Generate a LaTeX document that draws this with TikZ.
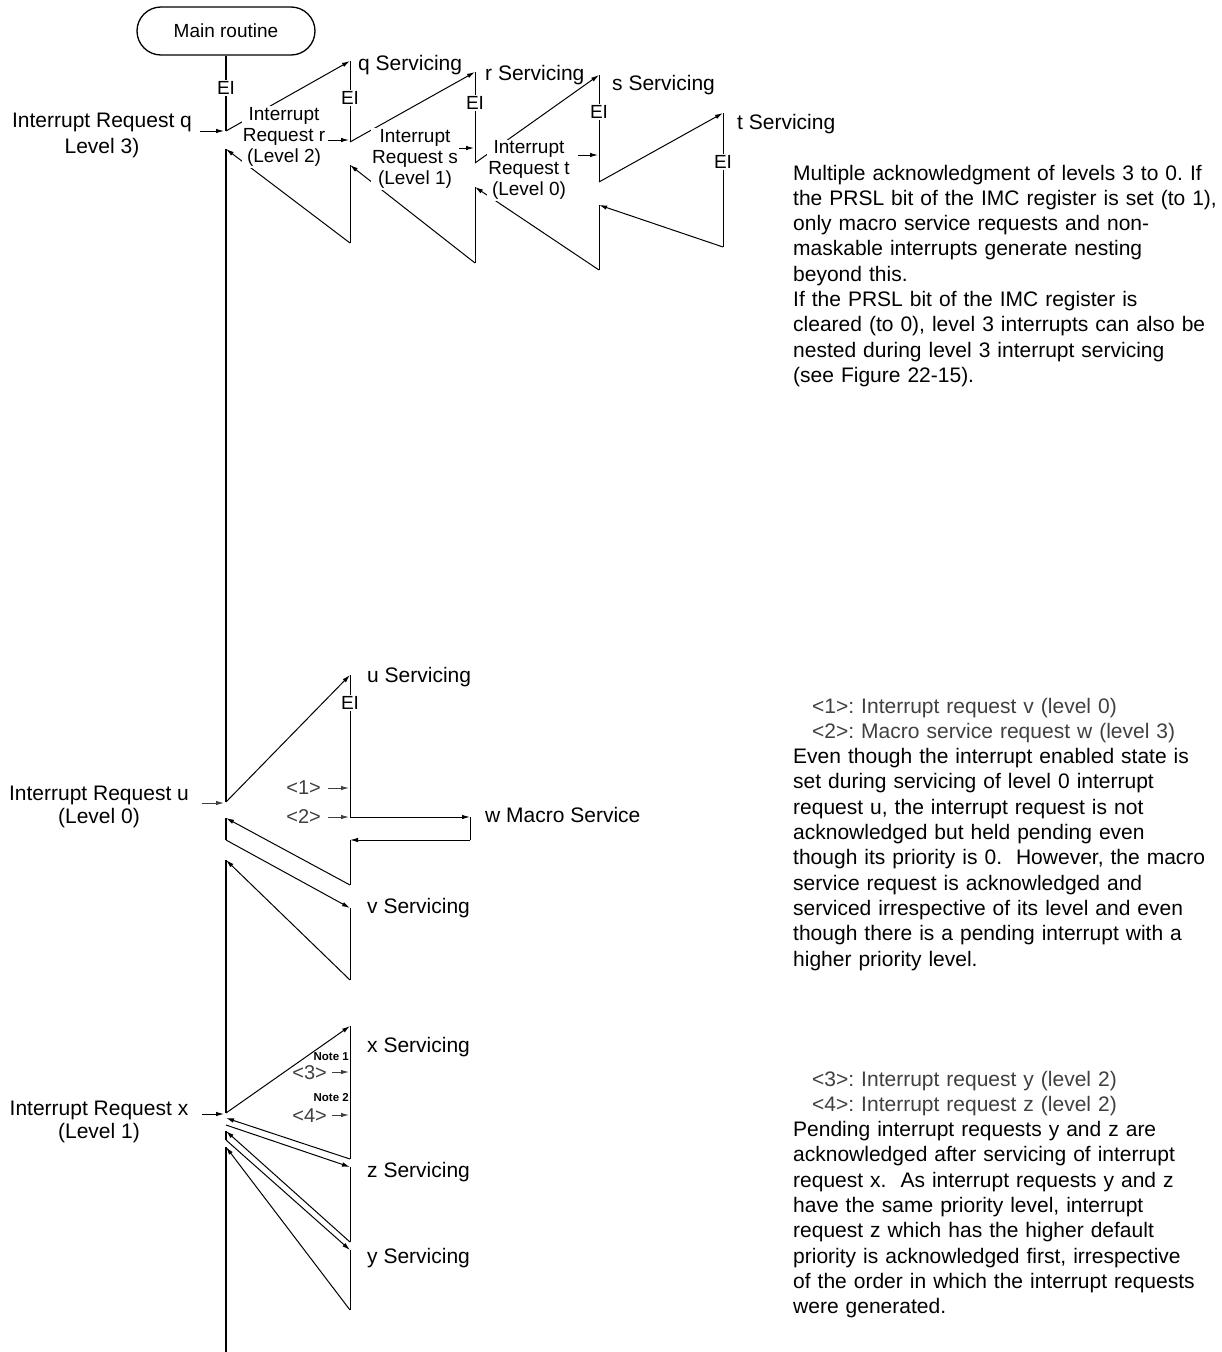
\documentclass[tikz,border=0pt]{standalone}
\usepackage{fontspec}
\setmainfont{Liberation Sans}
\usetikzlibrary{arrows.meta}
\definecolor{tg}{gray}{0.25}
\begin{document}
\frenchspacing
\begin{tikzpicture}[x=1pt,y=-1pt,
  ln/.style={line width=1pt},
  ar/.style={line width=1pt,-{Latex[length=8pt,width=4.5pt]}},
  mainln/.style={line width=1.3pt},
  lbl/.style={font=\fontsize{21}{21}\selectfont, inner sep=0pt},
  req/.style={font=\fontsize{21}{26}\selectfont, inner sep=0pt, align=center},
  sml/.style={font=\fontsize{19}{21}\selectfont, inner sep=1pt, align=center, fill=white},
  ei/.style={font=\fontsize{19}{19}\selectfont, inner sep=1pt, fill=white},
  num/.style={font=\fontsize{20}{20}\selectfont, inner sep=0pt, text=tg},
  notelbl/.style={font=\fontsize{11.5}{12}\selectfont\bfseries, inner sep=0pt},
  blk/.style={font=\fontsize{21}{25.3}\selectfont\frenchspacing, inner sep=0pt, text width=430pt, align=left, anchor=base west},
]
\useasboundingbox[fill=white] (0,0) rectangle (1222,1352);

% ---------- coordinates ----------
\coordinate (M1) at (226,131);
\coordinate (M2) at (226,149);
\coordinate (U1) at (226,802);
\coordinate (qTop) at (350,61);  \coordinate (qBrk) at (350,142);
\coordinate (qRes) at (350,165); \coordinate (qBot) at (350,243);
\coordinate (rTop) at (475,72);  \coordinate (rBrk) at (475,163);
\coordinate (rRes) at (475,187); \coordinate (rBot) at (475,263);
\coordinate (sTop) at (599,75);  \coordinate (sBrk) at (599,182);
\coordinate (sRes) at (599,205); \coordinate (sBot) at (599,270);
\coordinate (tTop) at (723,113); \coordinate (tBot) at (723,247);
\coordinate (qa1) at (200,131); \coordinate (qa2) at (224,131);
\coordinate (ra1) at (328,140); \coordinate (ra2) at (349,140);
\coordinate (sa1) at (453,148); \coordinate (sa2) at (474,148);
\coordinate (ta1) at (578,155); \coordinate (ta2) at (598,155);
% u section
\coordinate (uTop) at (350,675); \coordinate (uC) at (350,817);
\coordinate (wR) at (470,817);   \coordinate (wRb) at (470,840);
\coordinate (uRes) at (350,840); \coordinate (uBot) at (350,885);
\coordinate (U2) at (226,818);   \coordinate (U3) at (226,840);
\coordinate (vTop) at (350,908); \coordinate (vBot) at (350,980);
\coordinate (U4) at (226,860);   \coordinate (X1) at (226,1113);
\coordinate (ua1) at (202,803);  \coordinate (ua2) at (224,803);
\coordinate (n1a) at (328,788);  \coordinate (n1b) at (349,788);
\coordinate (n2a) at (328,817);  \coordinate (n2b) at (349,817);
% x section
\coordinate (xTop) at (350,1026); \coordinate (xBot) at (350,1159);
\coordinate (X2) at (226,1118);   \coordinate (X3) at (226,1125);
\coordinate (zTop) at (350,1167); \coordinate (zBot) at (350,1242);
\coordinate (X4) at (226,1131);   \coordinate (X5) at (226,1140);
\coordinate (yTop) at (350,1250); \coordinate (yBot) at (350,1310);
\coordinate (X6) at (226,1147);   \coordinate (End) at (226,1352);
\coordinate (xa1) at (202,1114);  \coordinate (xa2) at (224,1114);
\coordinate (n3a) at (332,1072);  \coordinate (n3b) at (349,1072);
\coordinate (n4a) at (332,1115);  \coordinate (n4b) at (349,1115);

% ---------- main routine ----------
\node[draw, line width=1.3pt, rounded corners=24pt, minimum width=178pt, minimum height=48pt,
      inner sep=0pt, font=\fontsize{19}{19}\selectfont] (main) at (226,31) {Main routine};

% ---------- top nesting ----------
\draw[mainln] (main.south) -- (M1);
\draw[ar] (M1) -- (qTop);
\draw[ln] (qTop) -- (qBrk);
\draw[ar] (qBrk) -- (rTop);
\draw[ln] (rTop) -- (rBrk);
\draw[ar] (rBrk) -- (sTop);
\draw[ln] (sTop) -- (sBrk);
\draw[ar] (sBrk) -- (tTop);
\draw[ln] (tTop) -- (tBot);
\draw[ar] (tBot) -- (sRes);
\draw[ln] (sRes) -- (sBot);
\draw[ar] (sBot) -- (rRes);
\draw[ln] (rRes) -- (rBot);
\draw[ar] (rBot) -- (qRes);
\draw[ln] (qRes) -- (qBot);
\draw[ar] (qBot) -- (M2);
\draw[mainln] (M2) -- (U1);

\draw[ar] (qa1) -- (qa2);
\draw[ar] (ra1) -- (ra2);
\draw[ar] (sa1) -- (sa2);
\draw[ar] (ta1) -- (ta2);

\node[ei] (ei0) at (226,88) {EI};
\node[ei] (eiq) at (350,98) {EI};
\node[ei] (eir) at (475,103) {EI};
\node[ei] (eis) at (599,112) {EI};
\node[ei] (eit) at (723,162) {EI};

\node[req] (reqq) at (102,135) {Interrupt Request q\\Level 3)};
\node[sml] (reqr) at (284,137) {Interrupt\\Request r\\(Level 2)};
\node[sml] (reqs) at (415,159) {Interrupt\\Request s\\(Level 1)};
\node[sml] (reqt) at (529,170) {Interrupt\\Request t\\(Level 0)};

\node[lbl, anchor=west] (qserv) at (358,65) {q Servicing};
\node[lbl, anchor=west] (rserv) at (485,75) {r Servicing};
\node[lbl, anchor=west] (sserv) at (612,85) {s Servicing};
\node[lbl, anchor=west] (tserv) at (737,124) {t Servicing};

% ---------- u section ----------
\draw[ar] (U1) -- (uTop);
\draw[ln] (uTop) -- (uC);
\draw[ar] (uC) -- (wR);
\draw[ln] (wR) -- (wRb);
\draw[ar] (wRb) -- (uRes);
\draw[ln] (uRes) -- (uBot);
\draw[ar] (uBot) -- (U2);
\draw[mainln] (U2) -- (U3);
\draw[ar] (U3) -- (vTop);
\draw[ln] (vTop) -- (vBot);
\draw[ar] (vBot) -- (U4);
\draw[mainln] (U4) -- (X1);

\draw[ar, tg] (ua1) -- (ua2);
\draw[ar, tg] (n1a) -- (n1b);
\draw[ar, tg] (n2a) -- (n2b);

\node[ei] (eiu) at (350,703) {EI};
\node[num, anchor=east] (n1) at (321,788) {<1>};
\node[num, anchor=east] (n2) at (321,817) {<2>};
\node[req, font=\fontsize{21}{23}\selectfont] (requ) at (99,807) {Interrupt Request u\\(Level 0)};
\node[lbl, anchor=west] (userv) at (367,677) {u Servicing};
\node[lbl, anchor=west] (wserv) at (485,815) {w Macro Service};
\node[lbl, anchor=west] (vserv) at (367,908) {v Servicing};

% ---------- x section ----------
\draw[ar] (X1) -- (xTop);
\draw[ln] (xTop) -- (xBot);
\draw[ar] (xBot) -- (X2);
\draw[ar] (X3) -- (zTop);
\draw[ln] (zTop) -- (zBot);
\draw[ar] (zBot) -- (X4);
\draw[mainln] (X4) -- (X5);
\draw[ar] (X5) -- (yTop);
\draw[ln] (yTop) -- (yBot);
\draw[ar] (yBot) -- (X6);
\draw[mainln] (X6) -- (End);

\draw[ar] (xa1) -- (xa2);
\draw[ar, tg] (n3a) -- (n3b);
\draw[ar, tg] (n4a) -- (n4b);

\node[notelbl, anchor=east] (note1) at (349,1057) {Note 1};
\node[notelbl, anchor=east] (note2) at (349,1098) {Note 2};
\node[num, anchor=east] (n3) at (327,1073) {<3>};
\node[num, anchor=east] (n4) at (327,1116) {<4>};
\node[req, font=\fontsize{21}{23}\selectfont] (reqx) at (99,1122) {Interrupt Request x\\(Level 1)};
\node[lbl, anchor=west] (xserv) at (367,1047) {x Servicing};
\node[lbl, anchor=west] (zserv) at (367,1172) {z Servicing};
\node[lbl, anchor=west] (yserv) at (367,1258) {y Servicing};

% ---------- explanatory text ----------
\node[blk] (txt1) at (793,180) {Multiple acknowledgment of levels 3 to 0. If\\
the PRSL bit of the IMC register is set (to 1),\\
only macro service requests and non-\\
maskable interrupts generate nesting\\
beyond this.\\
If the PRSL bit of the IMC register is\\
cleared (to 0), level 3 interrupts can also be\\
nested during level 3 interrupt servicing\\
(see Figure 22-15).};

\node[blk] (txt2) at (793,713) {\hspace*{19pt}\textcolor{tg}{<1>: Interrupt request v (level 0)}\\
\hspace*{19pt}\textcolor{tg}{<2>: Macro service request w (level 3)}\\
Even though the interrupt enabled state is\\
set during servicing of level 0 interrupt\\
request u, the interrupt request is not\\
acknowledged but held pending even\\
though its priority is 0.\ \ However, the macro\\
service request is acknowledged and\\
serviced irrespective of its level and even\\
though there is a pending interrupt with a\\
higher priority level.};

\node[blk] (txt3) at (793,1086) {\hspace*{19pt}\textcolor{tg}{<3>: Interrupt request y (level 2)}\\
\hspace*{19pt}\textcolor{tg}{<4>: Interrupt request z (level 2)}\\
Pending interrupt requests y and z are\\
acknowledged after servicing of interrupt\\
request x.\ \ As interrupt requests y and z\\
have the same priority level, interrupt\\
request z which has the higher default\\
priority is acknowledged first, irrespective\\
of the order in which the interrupt requests\\
were generated.};
\end{tikzpicture}
\end{document}
